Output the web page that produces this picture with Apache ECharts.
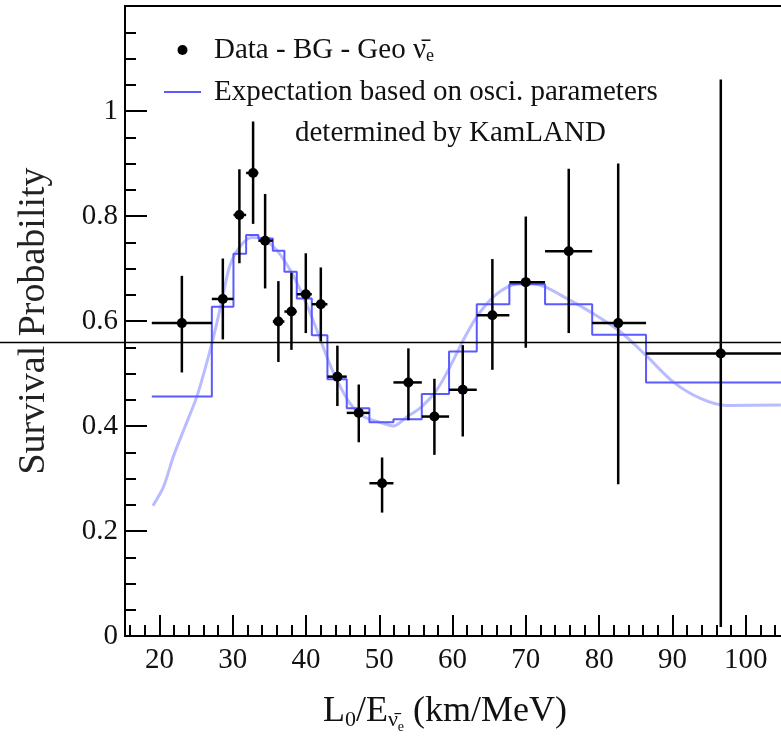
<!DOCTYPE html>
<html>
<head>
<meta charset="utf-8">
<script src="https://cdn.jsdelivr.net/npm/echarts@6/dist/echarts.min.js"></script>
<style>
html,body{margin:0;padding:0;background:#fff;}
#chart{width:781px;height:742px;}
</style>
</head>
<body>
<div id="chart"></div>
<script>
// ---- data ----
const xMajorTicks = [20, 30, 40, 50, 60, 70, 80, 90, 100];
const xMinorTicks = [16, 18, 20, 22, 24, 26, 28, 30, 32, 34, 36, 38, 40, 42, 44, 46, 48, 50, 52, 54, 56, 58, 60, 62, 64, 66, 68, 70, 72, 74, 76, 78, 80, 82, 84, 86, 88, 90, 92, 94, 96, 98, 100, 102, 104, 106, 108];

// bin edges (km/MeV) shared by data x-errors and expectation histogram
const binEdges = [18.96, 27.15, 30.1, 31.83, 33.5, 35.47, 37.05, 38.74, 40.79, 42.92, 45.56, 48.65, 51.93, 55.8, 59.52, 63.3, 67.75, 72.62, 79.05, 86.4, 107];

// Data - BG - Geo anti-nu
const dataX = [23.06, 28.65, 30.91, 32.78, 34.42, 36.23, 38.01, 39.97, 42.02, 44.28, 47.20, 50.38, 53.97, 57.52, 61.39, 65.43, 69.99, 75.85, 82.6, 96.6];
const dataY = [0.596, 0.642, 0.802, 0.882, 0.753, 0.599, 0.618, 0.651, 0.632, 0.494, 0.425, 0.291, 0.483, 0.418, 0.469, 0.611, 0.674, 0.733, 0.596, 0.538];
const dataYLow = [0.502, 0.565, 0.710, 0.785, 0.662, 0.522, 0.545, 0.577, 0.561, 0.438, 0.369, 0.235, 0.411, 0.345, 0.380, 0.507, 0.549, 0.577, 0.289, 0.017];
const dataYHigh = [0.686, 0.719, 0.889, 0.980, 0.842, 0.676, 0.692, 0.729, 0.702, 0.553, 0.479, 0.340, 0.548, 0.490, 0.554, 0.718, 0.799, 0.890, 0.900, 1.060];

// expectation, binned (step histogram)
const expectedBinned = [0.456, 0.627, 0.728, 0.764, 0.757, 0.734, 0.694, 0.643, 0.573, 0.489, 0.434, 0.407, 0.413, 0.461, 0.542, 0.632, 0.670, 0.632, 0.574, 0.483];

// expectation, continuous curve
const curveX = [19.1, 20.55, 21.9, 23.5, 25.1, 26.68, 27.83, 28.73, 29.65, 31.0, 32.6, 34.2, 36.0, 37.83, 39.65, 41.47, 42.84, 44.2, 46.0, 47.83, 50.1, 51.9, 53.75, 55.8, 57.85, 59.66, 61.47, 63.3, 65.57, 67.84, 70.1, 72.6, 75.58, 79.07, 82.85, 86.5, 90.1, 93.75, 97.4, 104.8];
const curveY = [0.248, 0.284, 0.342, 0.399, 0.456, 0.532, 0.596, 0.653, 0.707, 0.742, 0.759, 0.756, 0.735, 0.697, 0.646, 0.583, 0.532, 0.488, 0.443, 0.418, 0.407, 0.400, 0.417, 0.437, 0.469, 0.513, 0.564, 0.608, 0.646, 0.667, 0.673, 0.665, 0.643, 0.615, 0.580, 0.533, 0.484, 0.453, 0.439, 0.440];

// horizontal reference line drawn across the picture
const refLineValue = 0.559;

const seriesDataName = 'Data - BG - Geo \u03BD\u0304e';
const seriesExpName = 'Expectation based on osci. parameters';
const expNote = 'determined by KamLAND';

// ---- build series data ----
const pointRows = dataX.map((x, i) => [x, dataY[i], binEdges[i], binEdges[i + 1], dataYLow[i], dataYHigh[i]]);
const stepRows = expectedBinned.map((v, i) => [binEdges[i], v]);
stepRows.push([binEdges[binEdges.length - 1], expectedBinned[expectedBinned.length - 1]]);
const curveRows = curveX.map((x, i) => [x, curveY[i]]);

const FONT = 'Liberation Serif';
const chart = echarts.init(document.getElementById('chart'), null, {renderer: 'canvas'});

const option = {
  backgroundColor: '#fff',
  animation: false,
  title: {
    text: expNote,
    left: 290, top: 113,
    textStyle: {fontFamily: FONT, fontSize: 29, fontWeight: 'normal', color: '#111', lineHeight: 30}
  },
  legend: {
    orient: 'vertical',
    left: 158, top: 30,
    itemWidth: 37, itemHeight: 10, itemGap: 12,
    data: [
      {name: seriesDataName, icon: 'circle'},
      {name: seriesExpName, itemStyle: {opacity: 0}}
    ],
    formatter: function (name) {
      if (name === seriesDataName) return '{m|Data - BG - Geo \u03BD\u0304}{s|e}';
      return name;
    },
    textStyle: {
      fontFamily: FONT, fontSize: 29, color: '#111', lineHeight: 30, padding: [0, 0, 0, 8],
      rich: {
        m: {fontFamily: FONT, fontSize: 29, color: '#111', lineHeight: 30},
        s: {fontFamily: FONT, fontSize: 18, color: '#111', lineHeight: 30, verticalAlign: 'bottom', padding: [12, 0, 0, 0]}
      }
    }
  },
  grid: {
    left: 125, top: 6, right: -38, bottom: 106,
    show: true, borderColor: '#000', borderWidth: 2,
    containLabel: false, outerBoundsMode: 'none'
  },
  xAxis: [
    {
      type: 'value', min: 15.3, max: 110, position: 'bottom',
      axisLine: {show: true, onZero: false, lineStyle: {color: '#000', width: 2}},
      axisTick: {show: true, inside: true, length: 21, customValues: xMajorTicks, lineStyle: {color: '#000', width: 2}},
      axisLabel: {show: true, customValues: xMajorTicks, margin: 10, fontFamily: FONT, fontSize: 29, color: '#111'},
      splitLine: {show: false}
    },
    {
      type: 'value', min: 15.3, max: 110, position: 'bottom', offset: 0,
      axisLine: {show: false, onZero: false},
      axisTick: {show: true, inside: true, length: 11, customValues: xMinorTicks, lineStyle: {color: '#000', width: 2}},
      axisLabel: {show: false},
      splitLine: {show: false}
    }
  ],
  yAxis: {
    type: 'value', min: 0, max: 1.2, interval: 0.2,
    name: 'Survival Probability', nameLocation: 'middle', nameGap: 72, nameRotate: 90,
    nameTextStyle: {fontFamily: FONT, fontSize: 38, color: '#222'},
    axisLine: {show: true, lineStyle: {color: '#000', width: 2}},
    axisTick: {show: true, inside: true, length: 22, lineStyle: {color: '#000', width: 2}},
    minorTick: {show: true, splitNumber: 4, length: 11, lineStyle: {color: '#000', width: 2}},
    axisLabel: {margin: 7, showMaxLabel: false, fontFamily: FONT, fontSize: 29, color: '#111'},
    splitLine: {show: false}
  },
  series: [
    {
      name: 'Expectation (continuous)', type: 'line', data: curveRows,
      smooth: 0.3, showSymbol: false, symbol: 'none',
      lineStyle: {color: '#b9bcff', width: 3}, z: 1, silent: true
    },
    {
      name: seriesExpName, type: 'line', data: stepRows, step: 'end',
      showSymbol: false, symbol: 'none',
      lineStyle: {color: '#5a5aff', width: 2}, itemStyle: {color: '#5a5aff'}, z: 2
    },
    {
      name: seriesDataName, type: 'custom', data: pointRows, z: 3, clip: true,
      itemStyle: {color: '#000'},
      encode: {x: [0, 2, 3], y: [1, 4, 5]},
      renderItem: function (params, api) {
        const x = api.value(0), y = api.value(1);
        const c = api.coord([x, y]);
        const pl = api.coord([api.value(2), y]);
        const ph = api.coord([api.value(3), y]);
        const pyl = api.coord([x, api.value(4)]);
        const pyh = api.coord([x, api.value(5)]);
        return {
          type: 'group',
          children: [
            {type: 'line', shape: {x1: pl[0], y1: c[1], x2: ph[0], y2: c[1]}, style: {stroke: '#000', lineWidth: 2.5}},
            {type: 'line', shape: {x1: c[0], y1: pyl[1], x2: c[0], y2: pyh[1]}, style: {stroke: '#000', lineWidth: 2.5}},
            {type: 'circle', shape: {cx: c[0], cy: c[1], r: 5}, style: {fill: '#000'}}
          ]
        };
      }
    }
  ]
};
chart.setOption(option);

const refY = chart.convertToPixel({yAxisIndex: 0}, refLineValue);
chart.setOption({
  graphic: [
    {
      type: 'line', z: 100, silent: true,
      shape: {x1: 0, y1: refY, x2: chart.getWidth(), y2: refY},
      style: {stroke: '#000', lineWidth: 1.5}
    },
    {
      type: 'text', z: 100, x: 445, y: 712,
      style: {
        text: '{m|L}{s|0}{m|/E}{s|\u03BD\u0304}{t|e}{m| (km/MeV)}',
        align: 'center', verticalAlign: 'middle',
        rich: {
          m: {fontFamily: FONT, fontSize: 36, fill: '#111'},
          s: {fontFamily: FONT, fontSize: 22, fill: '#111', padding: [16, 0, 0, 0]},
          t: {fontFamily: FONT, fontSize: 14, fill: '#111', padding: [30, 0, 0, 0]}
        }
      }
    }
  ]
});
</script>
</body>
</html>
